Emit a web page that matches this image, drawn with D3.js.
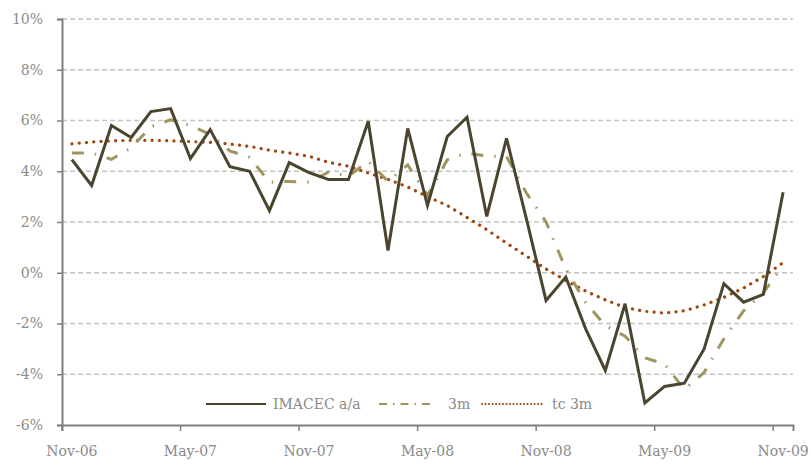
<!DOCTYPE html>
<html>
<head>
<meta charset="utf-8">
<script src="https://cdn.jsdelivr.net/npm/d3@7"></script>
<style>
  body { margin: 0; background: #fff; }
  text { font-family: "DejaVu Serif", serif; fill: #8a8a8a; }
</style>
</head>
<body>
<div id="chart-area"></div>
<script>
// months on the category axis (Nov-06 .. Nov-09)
const months = ["Nov-06","Dec-06","Jan-07","Feb-07","Mar-07","Apr-07","May-07","Jun-07","Jul-07","Aug-07","Sep-07","Oct-07",
  "Nov-07","Dec-07","Jan-08","Feb-08","Mar-08","Apr-08","May-08","Jun-08","Jul-08","Aug-08","Sep-08","Oct-08",
  "Nov-08","Dec-08","Jan-09","Feb-09","Mar-09","Apr-09","May-09","Jun-09","Jul-09","Aug-09","Sep-09","Oct-09","Nov-09"]
const xTickLabels = ["Nov-06","May-07","Nov-07","May-08","Nov-08","May-09","Nov-09"]
const yTicks = [-6, -4, -2, 0, 2, 4, 6, 8, 10]

// IMACEC a/a (%)
const imacec = [4.46, 3.44, 5.8, 5.33, 6.35, 6.47, 4.5, 5.64, 4.18, 4.0, 2.45, 4.34,
  3.95, 3.67, 3.67, 5.97, 0.88, 5.69, 2.65, 5.37, 6.13, 2.22, 5.3, 2.14,
  -1.09, -0.17, -2.2, -3.85, -1.22, -5.13, -4.48, -4.35, -3.0, -0.43, -1.16, -0.85, 3.17]
// 3m
const m3 = [4.72, 4.72, 4.47, 4.92, 5.75, 6.03, 5.8, 5.45, 4.8, 4.55, 3.57, 3.6,
  3.57, 3.97, 3.8, 4.4, 3.6, 4.25, 3.05, 4.45, 4.72, 4.6, 4.58, 3.15,
  2.0, 0.15, -1.17, -2.08, -2.5, -3.35, -3.6, -4.6, -3.93, -2.6, -1.5, -0.79, 0.3]
// tc 3m
const tc3m = [5.08, 5.15, 5.2, 5.22, 5.22, 5.2, 5.17, 5.14, 5.07, 4.98, 4.83, 4.72,
  4.59, 4.35, 4.2, 3.93, 3.68, 3.38, 3.0, 2.65, 2.18, 1.7, 1.17, 0.66,
  0.15, -0.3, -0.72, -1.07, -1.37, -1.52, -1.59, -1.5, -1.27, -0.97, -0.6, -0.15, 0.4]

const MARGIN = { LEFT: 62, RIGHT: 18, TOP: 19, BOTTOM: 39 }
const WIDTH = 811 - MARGIN.LEFT - MARGIN.RIGHT
const HEIGHT = 464 - MARGIN.TOP - MARGIN.BOTTOM

const svg = d3.select("#chart-area").append("svg")
  .attr("width", 811)
  .attr("height", 464)

const g = svg.append("g")
  .attr("transform", `translate(${MARGIN.LEFT}, ${MARGIN.TOP})`)

const x = d3.scaleBand()
  .domain(months)
  .range([0, WIDTH])
  .padding(0)

const y = d3.scaleLinear()
  .domain([-6, 10])
  .range([HEIGHT, 0])

// gridlines
g.selectAll(".grid")
  .data(yTicks.filter(d => d > -6))
  .enter().append("line")
    .attr("class", "grid")
    .attr("x1", 0)
    .attr("x2", WIDTH)
    .attr("y1", d => y(d))
    .attr("y2", d => y(d))
    .attr("stroke", "#c4c4c4")
    .attr("stroke-width", 1.3)
    .attr("stroke-dasharray", "5,3")

// X axis
const xAxisGroup = g.append("g")
  .attr("transform", `translate(0, ${HEIGHT})`)
  .call(d3.axisBottom(x).tickValues(xTickLabels).tickSize(6).tickPadding(15))
xAxisGroup.select(".domain").attr("stroke", "#808080").attr("stroke-width", 2)
xAxisGroup.selectAll(".tick line")
  .attr("stroke", "#808080")
  .attr("stroke-width", 1.5)
  .attr("transform", `translate(${-x.bandwidth() / 2}, 0)`)
xAxisGroup.selectAll(".tick text")
  .attr("font-size", "14px")
  .attr("font-family", "DejaVu Serif, serif")
  .attr("fill", "#8a8a8a")

// Y axis
const yAxisGroup = g.append("g")
  .call(d3.axisLeft(y).tickValues(yTicks).tickSize(5).tickPadding(14).tickFormat(d => d + "%"))
yAxisGroup.select(".domain").attr("stroke", "#808080").attr("stroke-width", 2)
yAxisGroup.selectAll(".tick line").attr("stroke", "#808080").attr("stroke-width", 1.5)
yAxisGroup.selectAll(".tick text")
  .attr("font-size", "14px")
  .attr("font-family", "DejaVu Serif, serif")
  .attr("fill", "#8a8a8a")

const series = [
  { name: "IMACEC a/a", values: imacec, color: "#4b4530", dash: null, cap: "butt" },
  { name: "3m", values: m3, color: "#a09560", dash: "12,11,1.5,11", cap: "butt" },
  { name: "tc 3m", values: tc3m, color: "#a2450f", dash: "0.1,7.2", cap: "round" }
]

const line = d3.line()
  .x((d, i) => x(months[i]) + x.bandwidth() / 2)
  .y(d => y(d))

// draw trend first, then 3m, then IMACEC on top
series.slice().reverse().forEach(s => {
  g.append("path")
    .datum(s.values)
    .attr("fill", "none")
    .attr("stroke", s.color)
    .attr("stroke-width", s.name === "tc 3m" ? 3.2 : 3)
    .attr("stroke-linejoin", "miter")
    .attr("stroke-linecap", s.cap)
    .attr("stroke-dasharray", s.dash)
    .attr("d", line)
})

// Legend
const legend = svg.append("g").attr("transform", "translate(0, 404)")
const legendItems = [
  { s: series[0], x0: 206, x1: 266, tx: 273 },
  { s: series[1], x0: 379, x1: 433, tx: 448 },
  { s: series[2], x0: 482, x1: 542, tx: 552 }
]
legendItems.forEach(it => {
  legend.append("line")
    .attr("x1", it.x0).attr("x2", it.x1)
    .attr("y1", 0).attr("y2", 0)
    .attr("stroke", it.s.color)
    .attr("stroke-width", it.s.name === "IMACEC a/a" ? 2 : 2)
    .attr("stroke-linecap", it.s.cap)
    .attr("stroke-dasharray", it.s.name === "3m" ? "8,6,1.5,6" : (it.s.name === "tc 3m" ? "0.1,3.4" : null))
  legend.append("text")
    .attr("x", it.tx)
    .attr("y", 0)
    .attr("dy", "0.35em")
    .attr("font-size", "14px")
    .text(it.s.name)
})
</script>
</body>
</html>
